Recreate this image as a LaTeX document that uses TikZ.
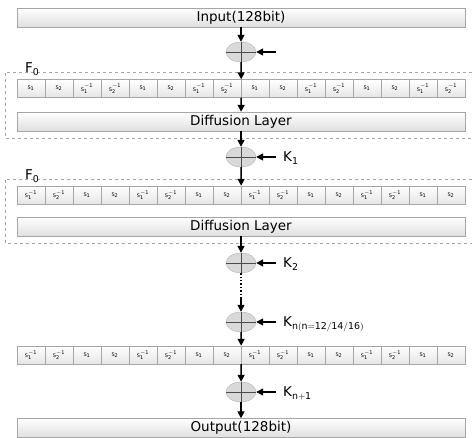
\documentclass[tikz,border=0pt]{standalone}
\usepackage{fontspec}
\setmainfont{DejaVu Sans}
\setsansfont{DejaVu Sans}
\usetikzlibrary{shapes.geometric,arrows.meta}

\newcommand{\Sone}{$\mathsf{S_1}$}
\newcommand{\Stwo}{$\mathsf{S_2}$}
\newcommand{\Soneinv}{$\mathsf{S_1^{-1}}$}
\newcommand{\Stwoinv}{$\mathsf{S_2^{-1}}$}

\begin{document}
\begin{tikzpicture}
  [x=1pt,y=1pt,
  layer/.style={rectangle,draw=gray!70,top color=white,bottom color=gray!25,
                  minimum width=448pt,minimum height=19pt,inner sep=0,
                  font=\fontsize{13.5}{15}\selectfont},
  sbox/.style={rectangle,draw=gray!70,top color=white,bottom color=gray!20,
                  minimum width=28pt,minimum height=18pt,inner sep=0,
                  font=\fontsize{5}{6}\selectfont},
  xor/.style={ellipse,draw=gray!60,fill=gray!30,minimum width=30pt,
                  minimum height=20pt,inner sep=0},
  flow/.style={line width=1.4pt,-{Triangle[length=7pt,width=7pt]}},
  keyflow/.style={flow,shorten <=7pt},
  keytext/.style={anchor=west,inner sep=0,text height=9.8pt,text depth=0pt,
                  font=\fontsize{13.5}{15}\selectfont},
  cross/.style={draw=black!70,line width=0.8pt},
  frame/.style={draw=gray!70,dashed,thin}
                  ]
  \useasboundingbox (0,0) rectangle (472,438);

  % F0 frames
  \draw[frame] (472,366) -- (5,366) -- (5,300) -- (472,300);
  \draw[frame] (472,259) -- (5,259) -- (5,195) -- (472,195);
  \node[keytext] (f0a) at (25,370) {$\mathsf{F_0}$};
  \node[keytext] (f0b) at (25,263) {$\mathsf{F_0}$};

  \node[layer] (input) at (241,420.5) {Input(128bit)};
  \node[xor] (xor0) at (241,386) {};
  \coordinate (k0) at (283,386);
  \foreach \lab [count=\i from 0] in {\Sone,\Stwo,\Soneinv,\Stwoinv,\Sone,\Stwo,\Soneinv,\Stwoinv,
                                       \Sone,\Stwo,\Soneinv,\Stwoinv,\Sone,\Stwo,\Soneinv,\Stwoinv}
    \node[sbox] (sa\i) at (31+28*\i,349.5) {\lab};
  \node[layer] (diff1) at (241,316.5) {Diffusion Layer};

  \node[xor] (xor1) at (241,281) {};
  \node[keytext] (key1) at (283,281) {$\mathsf{K_1}$};
  \foreach \lab [count=\i from 0] in {\Soneinv,\Stwoinv,\Sone,\Stwo,\Soneinv,\Stwoinv,\Sone,\Stwo,
                                       \Soneinv,\Stwoinv,\Sone,\Stwo,\Soneinv,\Stwoinv,\Sone,\Stwo}
    \node[sbox] (sb\i) at (31+28*\i,243) {\lab};
  \node[layer] (diff2) at (241,211.5) {Diffusion Layer};

  \node[xor] (xor2) at (241,175) {};
  \node[keytext] (key2) at (283,175) {$\mathsf{K_2}$};
  \coordinate (gap) at (241,140);
  \node[xor] (xorn) at (241,116) {};
  \node[keytext] (keyn) at (283,116) {$\mathsf{K_{n(n=12/14/16)}}$};
  \foreach \lab [count=\i from 0] in {\Soneinv,\Stwoinv,\Sone,\Stwo,\Soneinv,\Stwoinv,\Sone,\Stwo,
                                       \Soneinv,\Stwoinv,\Sone,\Stwo,\Soneinv,\Stwoinv,\Sone,\Stwo}
    \node[sbox] (sc\i) at (31+28*\i,83) {\lab};
  \node[xor] (xorlast) at (241,46) {};
  \node[keytext] (keylast) at (283,46) {$\mathsf{K_{n+1}}$};
  \node[layer] (output) at (241,10) {Output(128bit)};

  \foreach \x in {xor0,xor1,xor2,xorn,xorlast}
    \draw[cross] (\x.north) -- (\x.south) (\x.west) -- (\x.east);

  \draw[flow] (input) to (xor0);
  \draw[keyflow] (k0) to (xor0);
  \draw[flow] (xor0) to (sa7.north east);
  \draw[flow] (sa7.south east) to (diff1);
  \draw[flow] (diff1) to (xor1);
  \draw[keyflow] (key1) to (xor1);
  \draw[flow] (xor1) to (sb7.north east);
  \draw[flow] (diff2) to (xor2);
  \draw[keyflow] (key2) to (xor2);
  \draw[line width=1.4pt,dotted] (xor2) to (gap);
  \draw[flow] (gap) to (xorn);
  \draw[keyflow] (keyn) to (xorn);
  \draw[flow] (xorn) to (sc7.north east);
  \draw[flow] (sc7.south east) to (xorlast);
  \draw[keyflow] (keylast) to (xorlast);
  \draw[flow] (xorlast) to (output);
\end{tikzpicture}
\end{document}
